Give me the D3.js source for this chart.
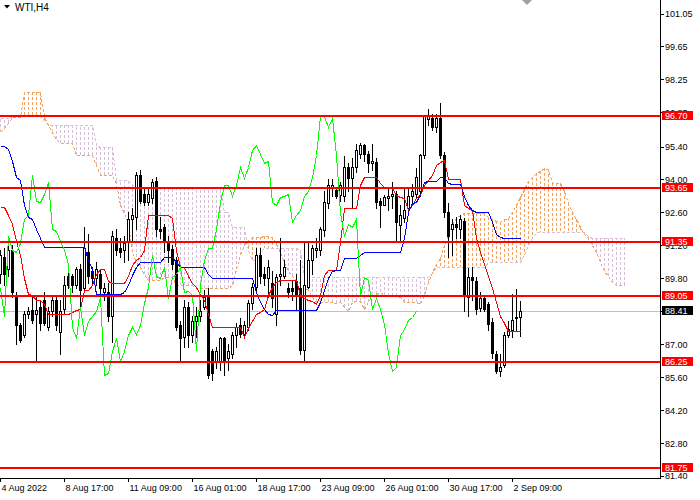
<!DOCTYPE html>
<html>
<head>
<meta charset="utf-8">
<script src="https://cdn.jsdelivr.net/npm/d3@7"></script>
<style>
  body { margin: 0; background: #fff; }
  svg { display: block; font-family: "Liberation Sans", Arial, sans-serif; }
</style>
</head>
<body>
<div id="chart"></div>
<script>
// WTI H4 candles, 4 Aug - 2 Sep 2022
const opens = [
  90.0, 90.7, 90.2, 91.0, 89.0, 87.8, 87.4, 88.3, 88.45, 88.3,
  88.6, 88.9, 87.75, 88.4, 88.9, 87.5, 88.5, 89.9, 89.9, 89.5,
  90.2, 89.4, 90.9, 90.1, 89.8, 90.0, 89.2, 89.2, 88.2, 91.5,
  91.1, 91.0, 91.35, 92.3, 92.4, 94.2, 93.4, 93.05, 93.2, 93.95,
  91.9, 92.0, 91.4, 91.05, 90.6, 87.8, 87.3, 88.6, 87.4, 88.0,
  88.2, 88.6, 89.0, 86.7, 86.3, 86.3, 87.25, 86.4, 86.6, 87.4,
  87.8, 87.45, 87.75, 88.75, 89.45, 90.8, 90.0, 89.8, 89.6, 88.3,
  89.9, 89.9, 89.4, 89.4, 89.7, 89.4, 86.75, 89.45, 90.6, 91.0,
  91.0, 91.85, 93.0, 93.65, 93.55, 93.35, 93.3, 94.55, 94.05, 94.55,
  95.1, 95.45, 95.1, 94.7, 94.75, 93.1, 92.9, 93.2, 93.3, 93.4,
  92.05, 92.35, 92.8, 93.3, 93.4, 93.5, 95.05, 96.55, 96.6, 96.25,
  96.6, 95.05, 92.6, 91.9, 92.1, 91.9, 92.25, 89.0, 89.85, 89.7,
  88.55, 88.95, 88.7, 87.95, 86.6, 85.85, 86.1, 87.4, 87.6, 88.1,
  88.15
];
const highs = [
  91.0, 91.1, 91.5, 91.2, 89.2, 87.9, 88.4, 88.6, 89.0, 89.1,
  88.9, 89.2, 88.6, 89.1, 89.0, 88.9, 89.9, 90.1, 90.0, 90.3,
  90.4, 92.0, 91.7, 90.3, 90.5, 90.2, 89.6, 89.6, 91.8, 91.9,
  91.5, 91.6, 92.6, 92.8, 94.3, 94.4, 93.6, 93.6, 94.0, 94.1,
  92.4, 92.1, 91.6, 91.2, 90.7, 88.0, 88.9, 88.8, 88.2, 88.6,
  88.9, 89.3, 89.4, 86.8, 86.9, 87.3, 87.3, 87.0, 87.5, 87.9,
  88.1, 88.0, 88.9, 89.6, 91.1, 91.1, 90.3, 90.6, 90.1, 90.0,
  91.5, 90.6, 89.6, 89.7, 90.0, 90.6, 91.4, 91.4, 91.2, 91.5,
  92.0, 93.5, 94.0, 94.0, 93.7, 93.9, 95.0, 94.7, 94.9, 95.5,
  95.55, 95.5, 95.2, 95.5, 94.9, 93.2, 93.35, 93.6, 93.9, 93.5,
  92.9, 93.6, 93.6, 93.8, 94.5, 95.1, 96.75, 97.0, 96.8, 96.8,
  97.25, 95.15, 93.0, 92.3, 92.4, 92.5, 92.35, 90.25, 90.3, 89.85,
  89.2, 89.0, 88.8, 88.1, 86.7, 86.6, 87.5, 88.0, 89.15, 89.35,
  88.85
];
const lows = [
  89.6, 89.5, 89.9, 89.0, 87.0, 87.1, 87.3, 88.1, 87.9, 86.35,
  87.6, 87.8, 87.6, 88.2, 87.6, 86.6, 88.3, 89.4, 89.2, 89.4,
  88.6, 89.2, 89.6, 89.6, 89.5, 88.9, 88.9, 88.0, 87.1, 90.8,
  90.7, 90.5, 90.6, 91.4, 91.9, 93.0, 92.9, 92.9, 93.0, 91.6,
  91.5, 90.9, 90.5, 90.2, 87.6, 86.3, 86.9, 86.9, 87.1, 87.3,
  88.0, 88.5, 85.55, 85.5, 86.0, 85.9, 85.7, 85.9, 86.4, 86.9,
  87.3, 87.3, 87.6, 88.5, 89.3, 89.6, 89.5, 89.0, 88.6, 87.8,
  89.5, 89.8, 89.0, 88.9, 88.5, 86.6, 86.25, 89.4, 90.0, 90.7,
  90.8, 91.6, 92.8, 93.3, 93.2, 93.1, 93.1, 93.5, 92.85, 94.3,
  94.9, 94.8, 94.3, 94.4, 92.8, 92.0, 92.9, 92.7, 92.8, 91.4,
  91.4, 92.2, 92.5, 93.0, 93.2, 93.3, 94.9, 96.3, 96.1, 96.0,
  94.9, 92.4, 90.7, 90.8, 91.5, 91.5, 88.4, 88.2, 88.9, 88.3,
  88.4, 88.4, 87.6, 86.4, 85.8, 85.65, 86.05, 87.3, 87.3, 87.6,
  87.35
];
const closes = [
  90.8, 90.0, 91.0, 89.2, 87.8, 87.2, 88.3, 88.4, 88.05, 88.45,
  87.9, 87.9, 88.4, 88.9, 87.8, 88.4, 89.5, 89.5, 89.5, 90.2,
  89.3, 91.1, 89.9, 89.8, 90.2, 89.4, 89.4, 88.2, 91.6, 91.0,
  90.9, 91.3, 92.3, 92.5, 94.2, 93.1, 93.05, 93.4, 93.9, 91.9,
  91.8, 91.4, 91.0, 90.4, 87.75, 87.25, 88.6, 87.4, 88.0, 88.2,
  88.4, 89.0, 85.7, 85.8, 86.7, 87.25, 86.3, 86.7, 87.4, 87.75,
  87.45, 87.8, 88.75, 89.45, 90.8, 89.9, 89.8, 90.3, 88.95, 89.85,
  90.0, 90.3, 89.2, 89.25, 89.1, 86.75, 89.5, 90.6, 91.1, 91.1,
  91.9, 93.05, 93.75, 93.75, 93.3, 93.75, 94.55, 94.05, 94.55, 95.25,
  95.45, 95.1, 94.7, 94.8, 93.05, 92.9, 93.25, 93.3, 93.4, 92.2,
  92.5, 92.7, 93.3, 93.5, 94.1, 95.05, 96.7, 96.7, 96.25, 96.6,
  95.05, 92.6, 91.6, 92.1, 92.0, 92.3, 89.05, 89.85, 89.75, 88.5,
  88.95, 88.5, 87.85, 86.65, 85.85, 86.05, 87.4, 87.65, 88.05, 88.15,
  88.41
];

// Ichimoku lines as drawn (tenkan red, kijun blue)
const tenkan = [
  92.84, 92.84, 92.5, 92.1, 91.4, 90.8, 89.8, 89.15, 89.1, 88.87,
  88.87, 88.7, 88.3, 88.3, 88.3, 88.3, 88.3, 88.3, 88.35, 88.45,
  88.5, 89.3, 89.3, 89.5, 90.0, 90.2, 90.2, 89.7, 89.6, 89.6,
  89.6, 89.6, 89.9, 90.35, 90.6, 90.7, 91.0, 92.5, 92.5, 92.5,
  92.5, 92.5, 92.5, 92.35, 91.0, 90.3, 90.3, 89.9, 89.6, 89.45,
  89.15, 88.9, 88.3, 87.75, 87.75, 87.75, 87.75, 87.75, 87.75, 87.75,
  87.75, 87.3, 87.7, 88.0, 88.3, 88.35, 88.5, 89.1, 89.45, 89.65,
  89.72, 89.72, 89.72, 89.72, 89.72, 89.1, 88.95, 88.9, 88.85, 88.73,
  89.1, 89.95, 90.15, 90.15, 90.15, 91.35, 92.77, 92.77, 92.77, 92.77,
  93.77, 94.12, 94.12, 94.12, 94.12, 93.84, 93.7, 93.62, 93.62, 93.34,
  93.27, 93.2, 92.7, 92.9, 93.2, 93.34, 93.77, 93.98, 94.19, 94.6,
  94.76, 94.83, 94.0, 94.0, 94.0, 94.0, 92.9, 92.8, 92.7, 91.5,
  90.9, 90.4, 89.9, 89.4, 88.8, 88.2, 87.9, 87.55, 87.55, 87.55,
  87.55
];
const kijun = [
  95.43, 95.43, 95.3, 94.8, 94.1, 93.98, 92.9, 92.4, 92.3, 91.9,
  91.5, 91.15, 91.15, 91.15, 91.15, 91.15, 91.15, 91.15, 91.15, 91.15,
  91.15, 91.15, 90.6, 90.2, 89.15, 89.15, 89.15, 89.15, 89.15, 89.15,
  89.15, 89.2, 89.5, 89.95, 90.3, 90.5, 90.5, 90.5, 90.5, 90.5,
  90.5, 90.7, 90.7, 90.7, 90.5, 90.3, 90.3, 90.3, 90.3, 90.3,
  90.3, 90.3, 90.0, 89.83, 89.83, 89.83, 89.83, 89.83, 89.83, 89.83,
  89.83, 89.83, 89.83, 89.83, 89.2, 88.8, 88.5, 88.3, 88.23, 88.45,
  88.45, 88.45, 88.45, 88.45, 88.45, 88.45, 88.45, 88.45, 88.45, 88.45,
  88.8, 89.3, 89.8, 90.1, 90.15, 90.15, 90.65, 90.65, 90.65, 90.65,
  90.8, 90.9, 90.9, 90.9, 90.9, 90.9, 90.9, 90.9, 90.9, 90.9,
  90.9, 91.5, 92.6, 93.0, 93.05, 93.4, 93.9, 93.95, 93.95, 93.95,
  94.12, 94.12, 93.84, 93.8, 93.8, 93.8, 93.3, 92.9, 92.7, 92.63,
  92.63, 92.63, 92.63, 92.2, 91.7, 91.55, 91.5, 91.5, 91.5, 91.5,
  91.5
];
// cloud spans, already shifted 26 bars ahead (157 bars)
const spanA = [
  96.03, 96.2, 96.4, 96.67, 96.67, 96.67, 97.73, 97.73, 97.73, 97.73,
  97.73, 96.67, 96.3, 96.0, 95.7, 95.55, 95.55, 95.55, 95.55, 95.04,
  95.04, 95.04, 95.04, 95.04, 94.6, 94.2, 94.2, 94.2, 94.2, 93.8,
  92.9, 92.57, 92.1, 90.9, 90.5, 90.3, 90.0, 89.72, 89.72, 89.72,
  89.72, 89.86, 89.86, 89.86, 89.5, 89.5, 89.5, 89.5, 89.5, 89.37,
  89.37, 89.37, 89.37, 89.37, 89.37, 89.37, 89.37, 89.37, 89.5, 90.2,
  90.8, 91.2, 91.45, 91.55, 91.55, 91.55, 91.6, 91.6, 91.55, 91.3,
  90.9, 90.5, 90.1, 89.9, 89.7, 89.6, 89.45, 89.3, 89.0, 88.8,
  88.8, 88.8, 88.8, 88.8, 88.75, 88.8, 88.6, 88.4, 88.8, 88.85,
  88.85, 88.5, 88.8, 89.1, 89.15, 89.2, 89.1, 89.05, 89.05, 89.05,
  89.0, 88.8, 88.8, 88.8, 88.8, 88.7, 89.1, 89.65, 90.06, 90.4,
  90.65, 91.2, 91.6, 92.1, 92.35, 92.5, 92.57, 92.57, 92.57, 92.57,
  92.57, 92.57, 92.4, 92.3, 92.25, 92.2, 92.3, 92.35, 92.6, 92.9,
  93.26, 93.6, 93.95, 94.1, 94.27, 94.35, 94.48, 94.45, 93.85, 93.85,
  93.85, 93.5, 93.0, 92.6, 92.3, 91.98, 91.7, 91.5, 91.2, 90.9,
  90.5, 90.1, 89.9, 89.65, 89.5, 89.5, 89.5
];
const spanB = [
  96.6, 96.6, 96.6, 96.7, 96.7, 96.7, 96.74, 96.74, 96.74, 96.74,
  96.74, 96.5, 96.31, 96.31, 96.31, 96.31, 96.31, 96.31, 96.31, 96.31,
  96.31, 96.31, 96.31, 96.31, 95.46, 95.4, 95.4, 95.4, 95.4, 93.98,
  93.98, 93.98, 93.98, 93.8, 93.65, 93.65, 93.65, 93.65, 93.65, 93.65,
  93.65, 93.65, 93.65, 93.65, 93.65, 93.65, 93.65, 93.65, 93.65, 93.65,
  93.65, 93.65, 93.65, 93.65, 93.65, 93.65, 92.6, 92.6, 92.0, 92.0,
  92.0, 92.0, 91.0, 90.6, 90.6, 90.9, 91.1, 91.1, 91.1, 91.1,
  91.1, 91.1, 91.1, 91.1, 91.1, 91.0, 89.86, 89.86, 89.86, 89.86,
  89.86, 89.86, 89.86, 89.86, 89.86, 89.86, 89.86, 89.86, 89.86, 89.86,
  89.86, 89.86, 89.86, 89.86, 89.86, 89.86, 89.86, 89.86, 89.86, 89.86,
  89.86, 89.86, 89.86, 89.86, 89.86, 89.86, 89.86, 89.86, 90.0, 90.3,
  90.3, 90.3, 90.3, 90.3, 90.3, 90.3, 90.3, 90.3, 90.3, 90.3,
  90.3, 90.3, 90.5, 90.5, 90.5, 90.5, 90.5, 90.5, 90.5, 90.5,
  90.5, 90.8, 91.2, 91.5, 91.77, 91.77, 91.77, 91.77, 91.77, 91.77,
  91.77, 91.77, 91.77, 91.77, 91.77, 91.77, 91.77, 91.6, 91.5, 91.5,
  91.5, 91.5, 91.5, 91.5, 91.5, 91.5, 91.5
];
const chikouShift = 26; // lagging span = closes drawn 26 bars back

const levels = [96.70, 93.65, 91.35, 89.05, 86.25, 81.75];
const lastPrice = 88.41;
const priceTicks = [101.05, 99.65, 98.25, 96.85, 95.40, 94.00, 92.60, 91.20,
  89.80, 88.40, 87.00, 85.60, 84.20, 82.80, 81.40];
const timeTickBars = [0, 16, 32, 48, 64, 80, 96, 112, 128];
const timeTickLabels = ["4 Aug 2022", "8 Aug 17:00", "11 Aug 09:00", "16 Aug 01:00",
  "18 Aug 17:00", "23 Aug 09:00", "26 Aug 01:00", "30 Aug 17:00", "2 Sep 09:00"];

const width = 700;
const height = 500;
const plotRight = 660;
const plotBottom = 478;

const svg = d3.select("#chart").append("svg")
  .attr("width", width)
  .attr("height", height);

svg.append("defs").append("clipPath").attr("id", "plotclip")
  .append("rect").attr("width", plotRight).attr("height", plotBottom);

const xScale = d3.scaleLinear().domain([0, 165]).range([0, plotRight]);
const yScale = d3.scaleLinear().domain([81.40, 101.05]).range([476.1, 13.5]);

const px = (i) => Math.round(xScale(i)) + 0.5;
const py = (v) => Math.round(yScale(v));

const plot = svg.append("g")
  .attr("clip-path", "url(#plotclip)")
  .attr("shape-rendering", "crispEdges");

// cloud hatch
plot.append("g")
  .selectAll("line")
  .data(spanA.map((a, i) => ({ i, a, b: spanB[i] })))
  .join("line")
  .attr("x1", (d) => px(d.i))
  .attr("x2", (d) => px(d.i))
  .attr("y1", (d) => py(d.a))
  .attr("y2", (d) => py(d.b))
  .attr("stroke", (d) => (d.a >= d.b ? "#F4A460" : "#D8BFD8"))
  .attr("stroke-dasharray", "3,2");

const stepLine = d3.line().x((d, i) => px(i)).y((d) => py(d) + 0.5);

plot.append("path").datum(spanA).attr("d", stepLine)
  .attr("fill", "none").attr("stroke", "#F4A460").attr("stroke-dasharray", "3,2");
plot.append("path").datum(spanB).attr("d", stepLine)
  .attr("fill", "none").attr("stroke", "#D8BFD8").attr("stroke-dasharray", "3,2");

// current price line
plot.append("line")
  .attr("x1", 0).attr("x2", plotRight)
  .attr("y1", py(lastPrice) + 0.5).attr("y2", py(lastPrice) + 0.5)
  .attr("stroke", "#C0C0C0");

// candles
const bars = opens.map((o, i) => ({ i, o, h: highs[i], l: lows[i], c: closes[i] }));
const candle = plot.append("g").selectAll("g").data(bars).join("g");

candle.append("line")
  .attr("x1", (d) => px(d.i))
  .attr("x2", (d) => px(d.i))
  .attr("y1", (d) => py(d.h))
  .attr("y2", (d) => py(d.l) + 1)
  .attr("stroke", "#000");

candle.append("rect")
  .attr("x", (d) => (d.c >= d.o ? px(d.i) - 1 : px(d.i) - 1.5))
  .attr("y", (d) => (d.c >= d.o ? py(d.c) + 0.5 : py(d.o)))
  .attr("width", (d) => (d.c >= d.o ? 2 : 3))
  .attr("height", (d) => {
    const h = py(Math.min(d.o, d.c)) - py(Math.max(d.o, d.c));
    return d.c >= d.o ? Math.max(h, 1) : Math.max(h + 1, 1);
  })
  .attr("fill", (d) => (d.c >= d.o ? "#fff" : "#000"))
  .attr("stroke", (d) => (d.c >= d.o ? "#000" : "none"));

// ichimoku lines
plot.append("path").datum(tenkan).attr("d", stepLine)
  .attr("fill", "none").attr("stroke", "#FF0000");
plot.append("path").datum(kijun).attr("d", stepLine)
  .attr("fill", "none").attr("stroke", "#0000FF");
plot.append("path")
  .datum(closes.slice(chikouShift))
  .attr("d", stepLine)
  .attr("fill", "none").attr("stroke", "#00FF00");

// horizontal levels
plot.append("g")
  .selectAll("rect")
  .data(levels)
  .join("rect")
  .attr("x", 0)
  .attr("y", (d) => py(d) - 1)
  .attr("width", plotRight)
  .attr("height", 2)
  .attr("fill", "#FF0000");

// frame
svg.append("line")
  .attr("x1", plotRight + 0.5).attr("x2", plotRight + 0.5)
  .attr("y1", 0).attr("y2", plotBottom + 1)
  .attr("stroke", "#000").attr("shape-rendering", "crispEdges");
svg.append("line")
  .attr("x1", 0).attr("x2", plotRight + 1)
  .attr("y1", plotBottom + 0.5).attr("y2", plotBottom + 0.5)
  .attr("stroke", "#000").attr("shape-rendering", "crispEdges");

// price axis
const yAxis = svg.append("g")
  .attr("transform", `translate(${plotRight}, 0)`)
  .call(d3.axisRight(yScale).tickValues(priceTicks).tickSize(4).tickPadding(1)
    .tickFormat(d3.format(".2f")));
yAxis.select(".domain").remove();
yAxis.selectAll("line").attr("stroke", "#000").attr("shape-rendering", "crispEdges");
yAxis.selectAll("text")
  .attr("font-size", 9)
  .attr("font-family", "'Liberation Sans', Arial, sans-serif")
  .attr("fill", "#000");

// time axis
const xAxis = svg.append("g")
  .attr("transform", `translate(0, ${plotBottom})`)
  .call(d3.axisBottom(xScale).tickValues(timeTickBars).tickSize(4)
    .tickFormat((d, k) => timeTickLabels[k]));
xAxis.select(".domain").remove();
xAxis.selectAll("line").attr("stroke", "#000").attr("shape-rendering", "crispEdges");
xAxis.selectAll("text")
  .attr("font-size", 9)
  .attr("font-family", "'Liberation Sans', Arial, sans-serif")
  .attr("text-anchor", "start")
  .attr("x", 1)
  .attr("fill", "#000");

// level price tags
const tags = svg.append("g");
const tagData = levels.map((v) => ({ v, bg: "#FF0000" }))
  .concat([{ v: lastPrice, bg: "#000" }]);
tags.selectAll("rect")
  .data(tagData)
  .join("rect")
  .attr("x", 662)
  .attr("y", (d) => py(d.v) - 5)
  .attr("width", 31)
  .attr("height", 9)
  .attr("fill", (d) => d.bg);
tags.selectAll("text")
  .data(tagData)
  .join("text")
  .attr("x", 665)
  .attr("y", (d) => py(d.v))
  .attr("dy", "0.34em")
  .attr("font-size", 9)
  .attr("fill", "#fff")
  .text((d) => d.v.toFixed(2));

// title and shift marker
svg.append("path").attr("d", "M4,5 L10,5 L7,8.5 Z").attr("fill", "#000");
svg.append("text")
  .attr("x", 15)
  .attr("y", 11)
  .attr("font-size", 10)
  .attr("fill", "#000")
  .text("WTI,H4");
svg.append("path").attr("d", "M522,0 L532,0 L527,5 Z").attr("fill", "#A0A0A0");
</script>
</body>
</html>
